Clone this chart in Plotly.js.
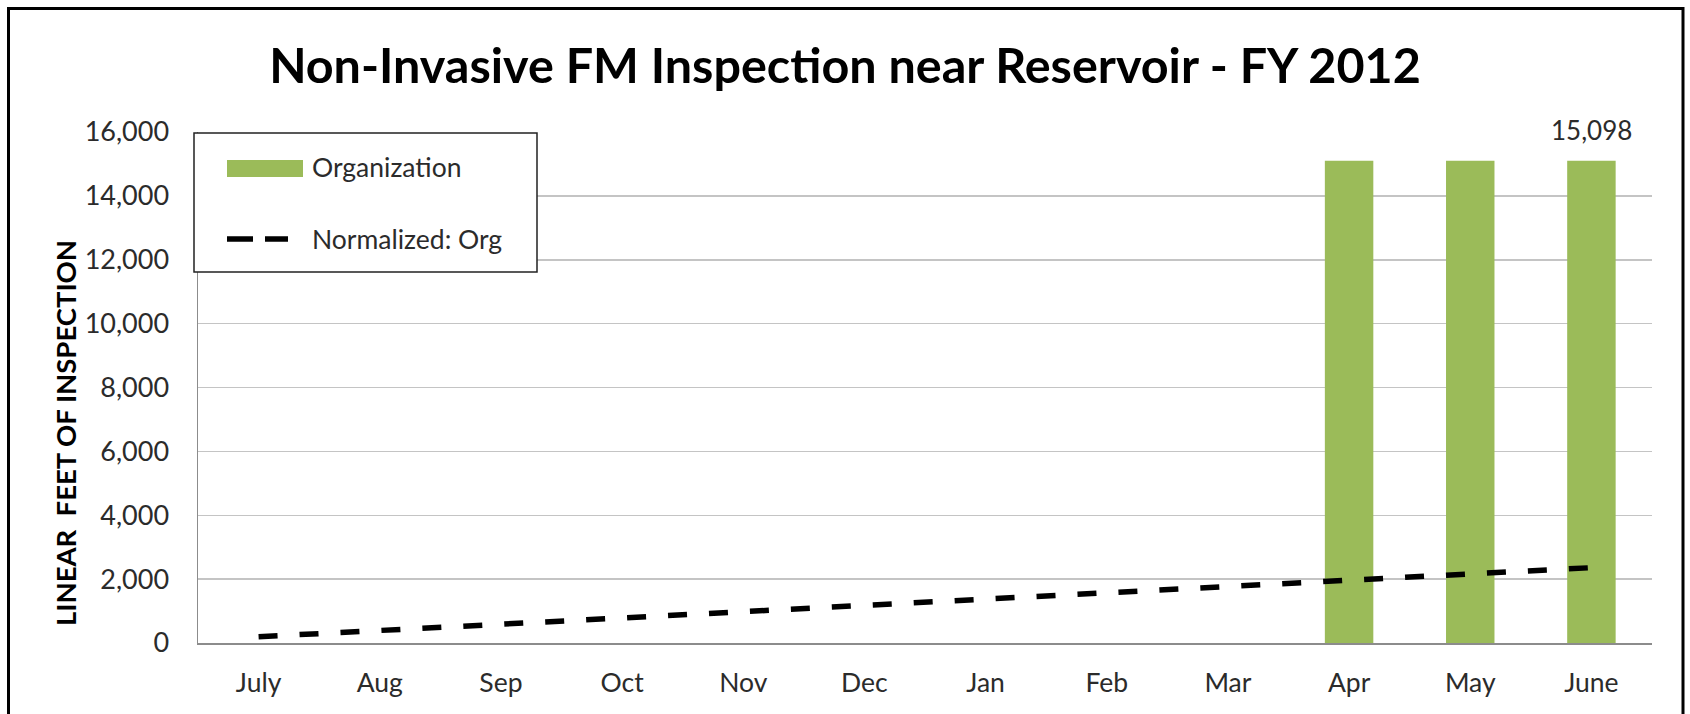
<!DOCTYPE html>
<html>
<head>
<meta charset="utf-8">
<script src="https://cdn.plot.ly/plotly-3.0.1.min.js"></script>
<style>html,body{margin:0;padding:0;background:#fff;}#chart{width:1690px;height:714px;}</style>
</head>
<body>
<div id="chart"></div>
<script>
// ---- data ----
const months = ['July','Aug','Sep','Oct','Nov','Dec','Jan','Feb','Mar','Apr','May','June'];
const organization = [null, null, null, null, null, null, null, null, null, 15098, 15098, 15098];
const normalized = [196, 393, 589, 786, 982, 1179, 1375, 1572, 1768, 1965, 2161, 2358];
const yTickVals = [0, 2000, 4000, 6000, 8000, 10000, 12000, 14000, 16000];
const titleText = 'Non-Invasive FM Inspection near Reservoir - FY 2012';
const yTitleText = 'LINEAR&nbsp;&nbsp;FEET OF INSPECTION';
const seriesNames = ['Organization', 'Normalized: Org'];

// ---- geometry helpers (pixels -> paper) ----
const W = 1690, H = 714;
const M = {l: 198, r: 38, t: 132, b: 71};
const PW = W - M.l - M.r, PH = H - M.t - M.b;
const px = x => (x - M.l) / PW;
const py = y => (H - M.b - y) / PH;

const FONT = 'Lato, "Open Sans", sans-serif';
const GREEN = '#9BBB59';
const TXT = '#2b2b2b';

const traces = [
  {
    type: 'bar', name: seriesNames[0], x: months, y: organization,
    marker: {color: GREEN}, hoverinfo: 'skip'
  },
  {
    type: 'scatter', mode: 'lines', name: seriesNames[1], x: months, y: normalized,
    line: {color: '#000', width: 5.5, dash: '19px,22px'}, hoverinfo: 'skip'
  }
];

const lastIdx = organization.length - 1;

const layout = {
  width: W, height: H,
  margin: M,
  paper_bgcolor: '#fff', plot_bgcolor: '#fff',
  showlegend: false,
  hovermode: false,
  bargap: 0.6,
  font: {family: FONT, size: 26, color: TXT},
  title: {
    text: '<b>' + titleText + '</b>',
    font: {family: FONT, size: 48.5, color: '#000'},
    x: 0.5, xanchor: 'center', xref: 'container',
    y: 1 - 66 / H, yanchor: 'middle'
  },
  xaxis: {
    type: 'category', categoryarray: months,
    showgrid: false, zeroline: false,
    showline: true, linecolor: '#8c8c8c', linewidth: 1.5,
    ticks: '', ticklabelstandoff: 16,
    tickfont: {family: FONT, size: 26.5, color: TXT}
  },
  yaxis: {
    range: [0, 16000], tickvals: yTickVals, tickformat: ',d',
    showgrid: true, gridcolor: '#c4c4c4', gridwidth: 1.5,
    zeroline: false,
    showline: true, linecolor: '#8c8c8c', linewidth: 1.5,
    ticks: '', ticklabelstandoff: 22,
    tickfont: {family: FONT, size: 27, color: TXT}
  },
  annotations: [
    {
      xref: 'x', yref: 'y', x: months[lastIdx], y: organization[lastIdx],
      text: organization[lastIdx].toLocaleString('en-US'),
      showarrow: false, yanchor: 'bottom', yshift: 13,
      font: {family: FONT, size: 26, color: TXT}
    },
    {
      xref: 'paper', yref: 'paper', x: px(65), y: py(433),
      text: '<b>' + yTitleText + '</b>', textangle: -90,
      showarrow: false, xanchor: 'center', yanchor: 'middle',
      font: {family: FONT, size: 27.5, color: '#000'}
    },
    {
      xref: 'paper', yref: 'paper', x: px(310), y: py(167),
      text: seriesNames[0], showarrow: false, xanchor: 'left', yanchor: 'middle',
      font: {family: FONT, size: 26.5, color: TXT}
    },
    {
      xref: 'paper', yref: 'paper', x: px(310), y: py(239),
      text: seriesNames[1], showarrow: false, xanchor: 'left', yanchor: 'middle',
      font: {family: FONT, size: 26.5, color: TXT}
    }
  ],
  shapes: [
    // outer frame
    {type: 'rect', xref: 'paper', yref: 'paper', x0: px(8.5), x1: px(1683), y0: py(740), y1: py(8.5),
     line: {color: '#000', width: 3}, fillcolor: 'rgba(0,0,0,0)', layer: 'above'},
    // legend box
    {type: 'rect', xref: 'paper', yref: 'paper', x0: px(194), x1: px(537), y0: py(272), y1: py(133),
     line: {color: '#222', width: 1.5}, fillcolor: '#fff', layer: 'above'},
    // legend swatch
    {type: 'rect', xref: 'paper', yref: 'paper', x0: px(227), x1: px(303), y0: py(177), y1: py(160),
     line: {width: 0}, fillcolor: GREEN, layer: 'above'},
    // legend dashed line
    {type: 'line', xref: 'paper', yref: 'paper', x0: px(227), x1: px(288), y0: py(239), y1: py(239),
     line: {color: '#000', width: 5.5, dash: '26px,12px'}, layer: 'above'}
  ]
};

Plotly.newPlot('chart', traces, layout, {staticPlot: true, displayModeBar: false});
</script>
</body>
</html>
